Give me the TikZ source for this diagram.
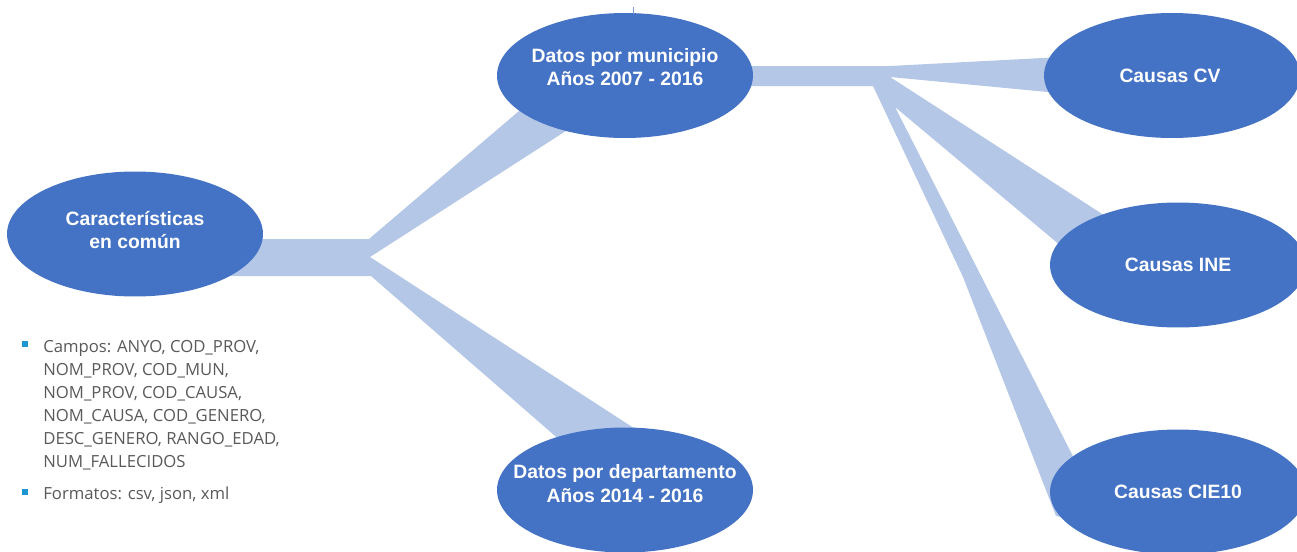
\documentclass[tikz,border=0pt]{standalone}
\usepackage{fontspec}
\setmainfont{Liberation Sans}
\newfontfamily\bodyfont{Open Sans}
\usetikzlibrary{shapes.geometric,backgrounds,calc}
\definecolor{nodeblue}{HTML}{4472C4}
\definecolor{linkblue}{HTML}{B4C7E7}
\definecolor{bodygray}{HTML}{595959}
\definecolor{bulletblue}{RGB}{30,150,210}

\begin{document}
\begin{tikzpicture}[x=0.02cm,y=-0.02cm,
  topic/.style={ellipse, fill=nodeblue, draw=none, minimum width=5.12cm,
    minimum height=2.5cm, inner sep=0pt},
  topictext/.style={text=white, inner sep=0pt, align=center,
    font=\fontsize{11}{13.2}\selectfont\bfseries},
  link/.style={fill=linkblue, draw=none},
  item/.style={anchor=base west, inner sep=0pt, text=bodygray,
    font=\bodyfont\fontsize{9.5}{13}\selectfont},
  bulletmark/.style={fill=bulletblue, minimum size=0.11cm, inner sep=0pt}]

\useasboundingbox (0,0) rectangle (1297,551);

% topic ellipses
\node[topic] (car) at (135,234) {};
\node[topic] (mun) at (625,75.5) {};
\node[topic] (dep) at (625,490) {};
\node[topic] (cv)  at (1172,75.5) {};
\node[topic] (ine) at (1178,265) {};
\node[topic] (cie) at (1178,492) {};

% labels inside the ellipses
\node[topictext] (car-t) at ($(car)+(0,-4)$) {Características\\en común};
\node[topictext] (mun-t) at ($(mun)+(0,-8.5)$) {Datos por municipio\\Años 2007 - 2016};
\node[topictext] (dep-t) at ($(dep)+(0,-6.5)$) {Datos por departamento\\Años 2014 - 2016};
\node[topictext] (cv-t)  at ($(cv)+(-2,0)$) {Causas CV};
\node[topictext] (ine-t) at (ine) {Causas INE};
\node[topictext] (cie-t) at (cie) {Causas CIE10};

% small tick above the municipio ellipse
\coordinate (tick-a) at (633,7);
\coordinate (tick-b) at (633,14);
\draw[nodeblue!70, line width=0.4pt] (tick-a) -- (tick-b);

% branching bands behind the ellipses
\begin{pgfonlayer}{background}
  % left fork: common features -> municipio / departamento
  \coordinate (fork1) at (370,257);
  \fill[link] (car.center |- 0,239) -- (369,239) -- (560,76)
    -- (600,109) -- (fork1) -- (660,445) -- (600,475) -- (371,276)
    -- (car.center |- 0,276) -- cycle;
  % right fork: municipio -> CV / INE / CIE10
  \coordinate (fork2) at (890,77);
  \fill[link] (mun.center |- 0,66) -- (890,66) -- (1100,55)
    -- (1100,97) -- (fork2) -- (1130,232) -- (1110,287) -- (895,107)
    -- (1109,527) -- (1056,516) -- (963,277) -- (873,86)
    -- (mun.center |- 0,86) -- cycle;
\end{pgfonlayer}

% field list
\node[bulletmark] (b1) at (25,344) {};
\node[item] (f1) at (43,352) {Campos: ANYO, COD\_PROV,};
\node[item] (f2) at (43,375) {NOM\_PROV, COD\_MUN,};
\node[item] (f3) at (43,398) {NOM\_PROV, COD\_CAUSA,};
\node[item] (f4) at (43,421) {NOM\_CAUSA, COD\_GENERO,};
\node[item] (f5) at (43,444) {DESC\_GENERO, RANGO\_EDAD,};
\node[item] (f6) at (43,467) {NUM\_FALLECIDOS};
\node[bulletmark] (b2) at (25,492) {};
\node[item] (f7) at (43,499) {Formatos: csv, json, xml};
\end{tikzpicture}
\end{document}
